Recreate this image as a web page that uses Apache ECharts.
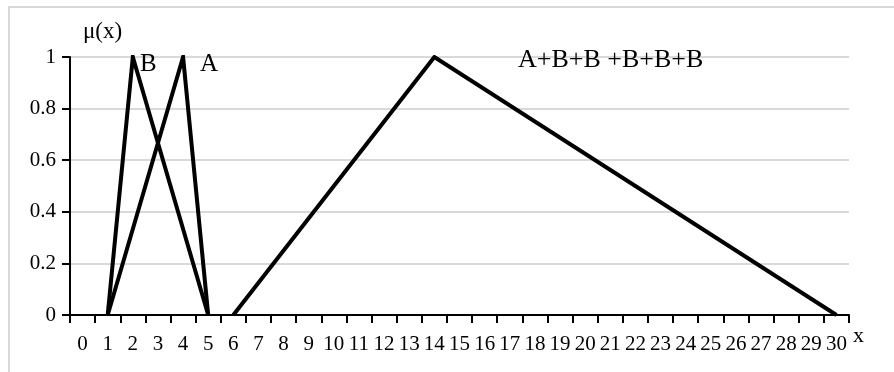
<!DOCTYPE html>
<html>
<head>
<meta charset="utf-8">
<script src="https://cdn.jsdelivr.net/npm/echarts@6/dist/echarts.min.js"></script>
<style>html,body{margin:0;padding:0;background:#fff;}#c{width:894px;height:372px;}</style>
</head>
<body>
<div id="c"></div>
<script>
var categories = [];
for (var i = 0; i <= 30; i++) categories.push(String(i));
var yTicks = [0, 0.2, 0.4, 0.6, 0.8, 1];
var seriesB = [[1, 0], [2, 1], [5, 0]];
var seriesA = [[1, 0], [4, 1], [5, 0]];
var seriesSum = [[6, 0], [14, 1], [30, 0]];
var labelB = 'B', labelA = 'A', labelSum = 'A+B+B +B+B+B';

var FONT = 'Liberation Serif';
var chart = echarts.init(document.getElementById('c'), null, {renderer: 'canvas'});
function lineSeries(name, data) {
  return {
    name: name, type: 'line', data: data, symbol: 'none', animation: false,
    lineStyle: {color: '#000', width: 4, join: 'miter'}, z: 5
  };
}
chart.setOption({
  animation: false,
  backgroundColor: '#fff',
  grid: {left: 70, right: 45, top: 57, bottom: 57, containLabel: false},
  xAxis: {
    type: 'category', data: categories, boundaryGap: true,
    axisLine: {lineStyle: {color: '#000', width: 2}},
    axisTick: {show: true, length: 8, lineStyle: {color: '#000', width: 2}, interval: 0},
    axisLabel: {interval: 0, margin: 19, color: '#000', fontFamily: FONT, fontSize: 21},
    splitLine: {show: false}
  },
  yAxis: {
    type: 'value', min: yTicks[0], max: yTicks[yTicks.length - 1], interval: 0.2,
    axisLine: {show: true, lineStyle: {color: '#000', width: 2}},
    axisTick: {show: true, length: 8, lineStyle: {color: '#000', width: 2}},
    axisLabel: {margin: 14, color: '#000', fontFamily: FONT, fontSize: 21},
    splitLine: {show: true, lineStyle: {color: '#d9d9d9', width: 2}}
  },
  series: [lineSeries('B', seriesB), lineSeries('A', seriesA), lineSeries('Sum', seriesSum)],
  graphic: [
    {type: 'line', shape: {x1: 9, y1: 6, x2: 9, y2: 372}, style: {stroke: '#d9d9d9', lineWidth: 2}, silent: true},
    {type: 'line', shape: {x1: 8, y1: 7, x2: 894, y2: 7}, style: {stroke: '#d9d9d9', lineWidth: 2}, silent: true},
    {type: 'text', left: 83, top: 20, style: {text: 'μ(x)', font: '23px "Liberation Serif"', fill: '#000'}},
    {type: 'text', left: 853, top: 325, style: {text: 'x', font: '22px "Liberation Serif"', fill: '#000'}},
    {type: 'text', left: 140, top: 52, style: {text: labelB, font: '25px "Liberation Serif"', fill: '#000'}, z: 10},
    {type: 'text', left: 200, top: 52, style: {text: labelA, font: '25px "Liberation Serif"', fill: '#000'}, z: 10},
    {type: 'text', left: 518, top: 47, style: {text: labelSum, font: '26px "Liberation Serif"', fill: '#000'}, z: 10}
  ]
});
</script>
</body>
</html>
